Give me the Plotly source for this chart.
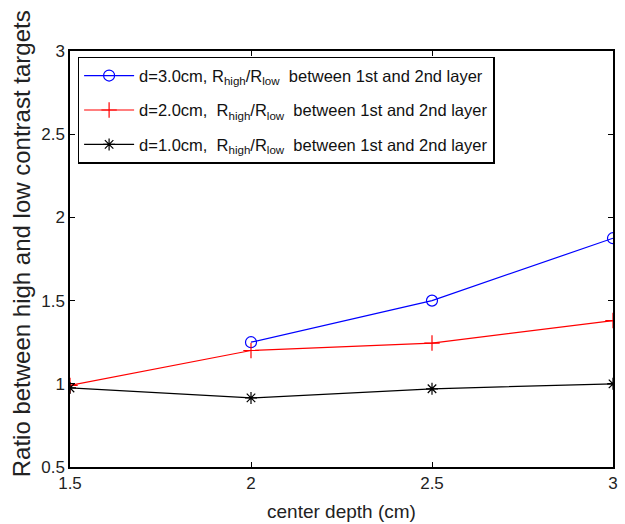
import plotly.graph_objects as go

x_blue = [2, 2.5, 3]
y_blue = [1.25, 1.5, 1.875]
x_red = [1.5, 2, 2.5, 3]
y_red = [0.99, 1.20, 1.245, 1.38]
x_black = [1.5, 2, 2.5, 3]
y_black = [0.975, 0.915, 0.97, 1.0]

names = [
    "d=3.0cm, R<sub>high</sub>/R<sub>low</sub>  between 1st and 2nd layer",
    "d=2.0cm,  R<sub>high</sub>/R<sub>low</sub>  between 1st and 2nd layer",
    "d=1.0cm,  R<sub>high</sub>/R<sub>low</sub>  between 1st and 2nd layer",
]
xticks = [1.5, 2, 2.5, 3]
yticks = [0.5, 1, 1.5, 2, 2.5, 3]
x_title = "center depth (cm)"
y_title = "Ratio between high and low contrast targets"

FONT = "Liberation Sans, Arial"

fig = go.Figure()
fig.add_trace(go.Scatter(x=x_blue, y=y_blue, mode="lines+markers", name=names[0], legendgroup="a",
                         line=dict(color="#0000ff", width=1.2),
                         marker=dict(symbol="circle-open", size=11, color="#0000ff", line=dict(width=1.2))))
fig.add_trace(go.Scatter(x=x_red, y=y_red, mode="lines+markers", name=names[1], legendgroup="b",
                         line=dict(color="#ff0000", width=1.2),
                         marker=dict(symbol="cross-thin-open", size=11, color="#ff0000", line=dict(width=1.2, color="#ff0000"))))
fig.add_trace(go.Scatter(x=x_black, y=y_black, mode="lines+markers", name=names[2], legendgroup="c",
                         line=dict(color="#000000", width=1.2),
                         marker=dict(symbol="asterisk-open", size=10, color="#000000", line=dict(width=1.2, color="#000000"))))

axis_common = dict(showgrid=False, zeroline=False, showline=True, linecolor="black", linewidth=1.5,
                   mirror="ticks", ticks="inside", ticklen=5, tickcolor="black", tickwidth=1,
                   automargin=False,
                   tickfont=dict(family=FONT, size=17, color="#222"))
fig.update_xaxes(range=[1.5, 3], tickvals=xticks, ticktext=[str(v) for v in xticks], **axis_common)
fig.update_yaxes(range=[0.5, 3], tickvals=yticks, ticktext=[("%g" % v) for v in yticks], **axis_common)

fig.add_annotation(text=y_title, xref="paper", yref="paper", x=-0.089, y=0.537,
                   xanchor="center", yanchor="middle", textangle=-90, showarrow=False,
                   font=dict(family=FONT, size=24, color="#222"))
fig.add_annotation(text=x_title, xref="paper", yref="paper", x=0.5, y=-0.106,
                   xanchor="center", yanchor="middle", showarrow=False,
                   font=dict(family=FONT, size=19, color="#222"))

fig.update_layout(
    width=625, height=524,
    margin=dict(l=70, r=12, t=51, b=57),
    plot_bgcolor="white", paper_bgcolor="white",
    legend=dict(x=0.014, y=0.986, xanchor="left", yanchor="top",
                bgcolor="white", bordercolor="black", borderwidth=1.5,
                font=dict(family=FONT, size=16.5, color="#111"),
                itemwidth=50, tracegroupgap=10),
    showlegend=True,
)
fig.write_html("out.html")
